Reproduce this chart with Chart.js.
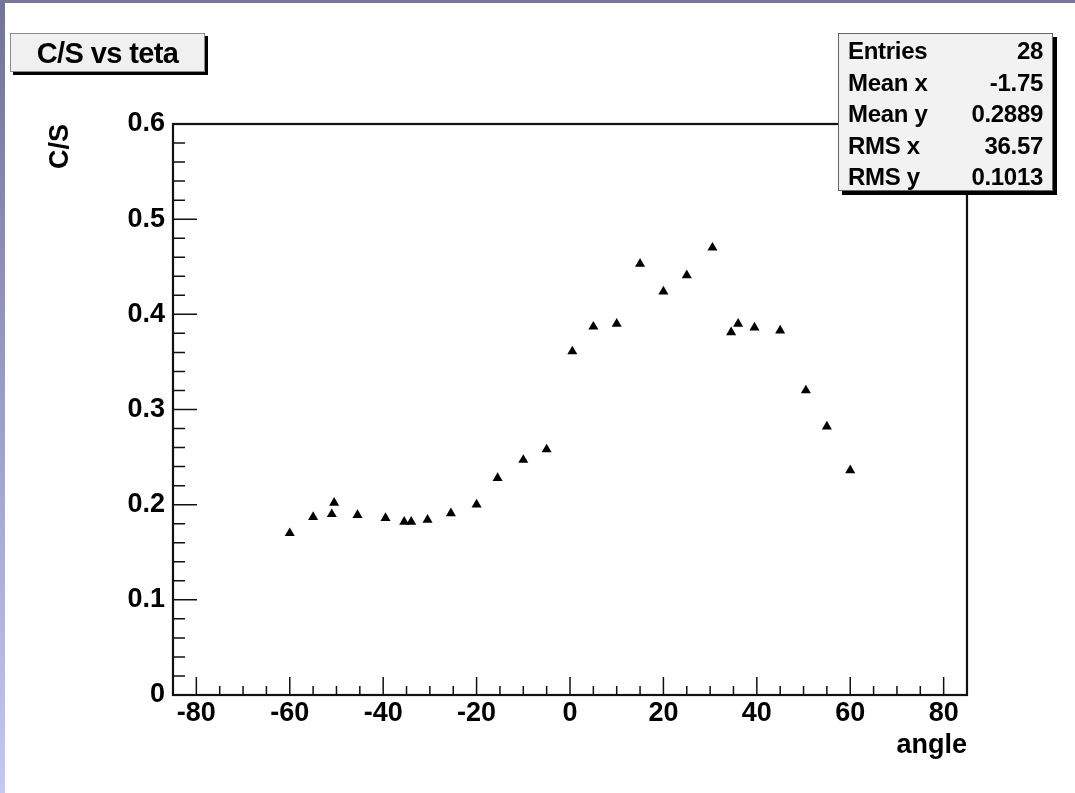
<!DOCTYPE html>
<html>
<head>
<meta charset="utf-8">
<script src="https://cdn.jsdelivr.net/npm/chart.js@4.4.1/dist/chart.umd.min.js"></script>
<style>
  html, body { margin: 0; padding: 0; background: #fff; }
  #wrap { position: relative; width: 1075px; height: 793px; overflow: hidden; font-family: 'Liberation Sans', Arial, Helvetica, sans-serif; }
  #edgeLeft { position: absolute; left: 0; top: 0; width: 5px; height: 793px; background: linear-gradient(#72729a, #c6c6f6); }
  #edgeTop { position: absolute; left: 0; top: 0; width: 1075px; height: 3px; background: #76769c; }
  #titleBox {
    position: absolute; left: 10px; top: 33px; width: 193px; height: 37px;
    background: #f0f0f0; border: 1px solid #8a8a8a; box-shadow: 3px 3px 0 #000;
    font-weight: bold; font-size: 29px; line-height: 38px; text-align: center; letter-spacing: -0.6px;
  }
  #stats {
    position: absolute; left: 838px; top: 33px; width: 213px; height: 156px;
    background: #f2f2f2; border: 1px solid #666; box-shadow: 4px 4px 0 #000;
  }
  .row { position: absolute; left: 9px; right: 9px; height: 28px; line-height: 28px; font-size: 24px; font-weight: bold; letter-spacing: -0.3px; }
  .row .v { position: absolute; right: 0; top: 0; }
</style>
</head>
<body>
<div id="wrap">
  <canvas id="myChart" width="1075" height="793"></canvas>
  <div id="edgeLeft"></div>
  <div id="edgeTop"></div>
  <div id="titleBox">C/S vs teta</div>
  <div id="stats"></div>
</div>
<script>
// Les données (angle en degrés, rapport C/S)
const angles = [-60, -55, -51, -50.5, -45.5, -39.5, -35.5, -34, -30.5, -25.5, -20, -15.5, -10, -5,
                0.5, 5, 10, 15, 20, 25, 30.5, 34.5, 36, 39.5, 45, 50.5, 55, 60];
const ratios = [0.170, 0.187, 0.190, 0.202, 0.189, 0.186, 0.182, 0.182, 0.184, 0.191, 0.200, 0.228, 0.247, 0.258,
                0.361, 0.387, 0.390, 0.453, 0.424, 0.441, 0.470, 0.381, 0.390, 0.386, 0.383, 0.320, 0.282, 0.236];

// Graduations des axes
const xTicks = [-80, -60, -40, -20, 0, 20, 40, 60, 80];
const yTicks = [0, 0.1, 0.2, 0.3, 0.4, 0.5, 0.6];
const yTickLabels = ['0', '0.1', '0.2', '0.3', '0.4', '0.5', '0.6'];
const xMinorStep = 5;
const yMinorStep = 0.02;

// Boîte de statistiques
const statLabels = ['Entries', 'Mean x', 'Mean y', 'RMS x', 'RMS y'];
const statValues = ['28', '-1.75', '0.2889', '36.57', '0.1013'];

const statsBox = document.querySelector('#stats');
statLabels.forEach((lab, i) => {
  const row = document.createElement('div');
  row.className = 'row';
  row.style.top = (3 + i * 31.5) + 'px';
  row.innerHTML = '<span>' + lab + '</span><span class="v">' + statValues[i] + '</span>';
  statsBox.appendChild(row);
});

const FONT = "'Liberation Sans', Arial, Helvetica, sans-serif";

// Cadre et petites graduations tournées vers l'intérieur, comme dans ROOT
const rootFrame = {
  id: 'rootFrame',
  beforeDatasetsDraw(chart) {
    const {ctx, chartArea: a, scales: {x, y}} = chart;
    ctx.save();
    ctx.strokeStyle = '#111';
    ctx.lineWidth = 1.5;
    ctx.beginPath();
    // axe x
    for (let v = xTicks[0]; v <= xTicks[xTicks.length - 1] + 1e-9; v += xMinorStep) {
      const px = x.getPixelForValue(v);
      const major = xTicks.some(t => Math.abs(t - v) < 1e-9);
      ctx.moveTo(px, a.bottom);
      ctx.lineTo(px, a.bottom - (major ? 18 : 9));
    }
    // axe y
    for (let v = yTicks[0]; v <= yTicks[yTicks.length - 1] + 1e-9; v += yMinorStep) {
      const py = y.getPixelForValue(v);
      const major = yTicks.some(t => Math.abs(t - v) < 1e-6);
      ctx.moveTo(a.left, py);
      ctx.lineTo(a.left + (major ? 24 : 12), py);
    }
    ctx.stroke();
    ctx.lineWidth = 2.2;
    ctx.strokeRect(a.left, a.top, a.right - a.left, a.bottom - a.top);
    ctx.restore();
  }
};

const ctx = document.getElementById('myChart').getContext('2d');
const myChart = new Chart(ctx, {
  type: 'scatter',
  data: {
    datasets: [{
      label: 'C/S',
      data: angles.map((a, i) => ({x: a, y: ratios[i]})),
      pointStyle: 'triangle',
      pointRadius: 5.8,
      pointHoverRadius: 5.8,
      backgroundColor: '#000',
      borderColor: '#000',
      borderWidth: 0
    }]
  },
  options: {
    responsive: false,
    animation: false,
    devicePixelRatio: 1,
    layout: { padding: { top: 124, right: 108, left: 0, bottom: 0 } },
    plugins: { legend: { display: false }, tooltip: { enabled: false } },
    scales: {
      x: {
        type: 'linear', min: -85, max: 85,
        grid: { display: false, drawTicks: false },
        border: { display: false },
        afterBuildTicks: (s) => { s.ticks = xTicks.map(v => ({value: v})); },
        afterFit: (s) => { s.height = 98; },
        ticks: {
          color: '#000', padding: 2, maxRotation: 0, autoSkip: false,
          font: { family: FONT, size: 27, weight: 'bold' }
        },
        title: {
          display: true, text: 'angle', align: 'end', color: '#000',
          font: { family: FONT, size: 27, weight: 'bold' },
          padding: { top: 0, bottom: 31 }
        }
      },
      y: {
        type: 'linear', min: 0, max: 0.6,
        grid: { display: false, drawTicks: false },
        border: { display: false },
        afterBuildTicks: (s) => { s.ticks = yTicks.map(v => ({value: v})); },
        afterFit: (s) => { s.width = 173; },
        ticks: {
          color: '#000', padding: 8, autoSkip: false,
          font: { family: FONT, size: 27, weight: 'bold' },
          callback: (v) => { const i = yTicks.findIndex(t => Math.abs(t - v) < 1e-9); return i >= 0 ? yTickLabels[i] : ''; }
        },
        title: {
          display: true, text: 'C/S', align: 'end', color: '#000',
          font: { family: FONT, size: 27, weight: 'bold' },
          padding: { top: 44, bottom: 0 }
        }
      }
    }
  },
  plugins: [rootFrame]
});
</script>
</body>
</html>
